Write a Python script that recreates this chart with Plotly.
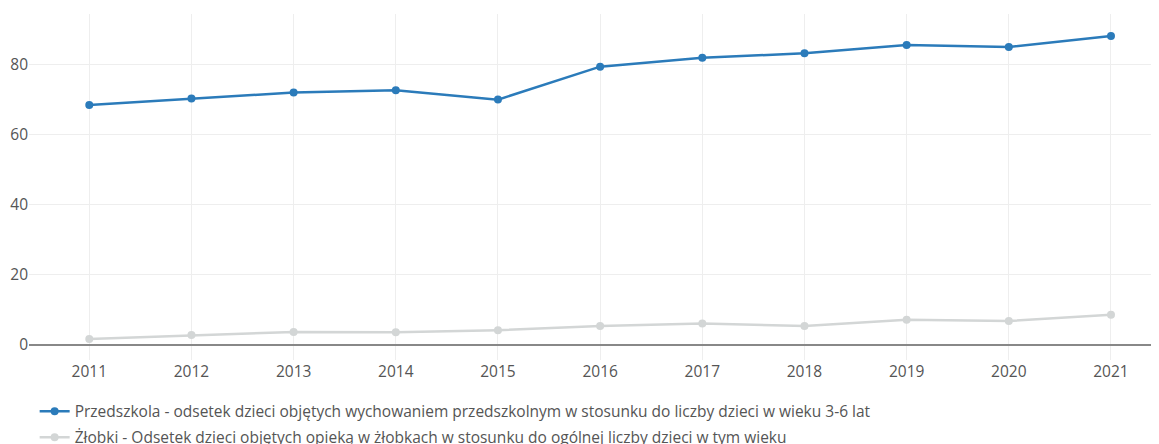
import plotly.graph_objects as go

years = [2011, 2012, 2013, 2014, 2015, 2016, 2017, 2018, 2019, 2020, 2021]
przedszkola = [68.4, 70.2, 71.9, 72.6, 69.9, 79.3, 81.8, 83.1, 85.5, 84.9, 88.0]
zlobki = [1.7, 2.8, 3.7, 3.6, 4.2, 5.4, 6.1, 5.4, 7.2, 6.8, 8.6]

name_p = "Przedszkola - odsetek dzieci objętych wychowaniem przedszkolnym w stosunku do liczby dzieci w wieku 3-6 lat"
name_z = "Żłobki - Odsetek dzieci objętych opieką w żłobkach w stosunku do ogólnej liczby dzieci w tym wieku"

fig = go.Figure()
fig.add_trace(go.Scatter(x=years, y=przedszkola, name=name_p, mode="lines+markers", legendgroup="p",
                         line=dict(color="#2b7bba", width=2.5), marker=dict(size=8, color="#2b7bba")))
fig.add_trace(go.Scatter(x=years, y=zlobki, name=name_z, mode="lines+markers", legendgroup="z",
                         line=dict(color="#d3d6d6", width=2.5), marker=dict(size=8, color="#d3d6d6")))

fig.update_layout(
    width=1159, height=444,
    margin=dict(l=21, r=8, t=6, b=92, autoexpand=False),
    paper_bgcolor="white", plot_bgcolor="white",
    font=dict(family="Open Sans", size=15.5, color="#555"),
    showlegend=True,
    legend=dict(orientation="v", x=0.005, xanchor="left", y=-0.1, yanchor="top",
                traceorder="grouped", tracegroupgap=3,
                font=dict(family="Open Sans", size=15.5, color="#555")),
    xaxis=dict(range=[2010.41, 2021.47], tickmode="array", tickvals=years,
               ticktext=[str(y) for y in years], showgrid=True, gridcolor="#eeeeee",
               zeroline=False, showline=False, ticks="", automargin=False,
               tickfont=dict(size=15.5)),
    yaxis=dict(range=[-4.3, 94.3], tickvals=[0, 20, 40, 60, 80], showgrid=True,
               gridcolor="#eeeeee", zeroline=True, zerolinecolor="#888", zerolinewidth=2,
               showline=False, ticks="", automargin=False, tickfont=dict(size=15.5)),
)

fig.write_html("out.html")
